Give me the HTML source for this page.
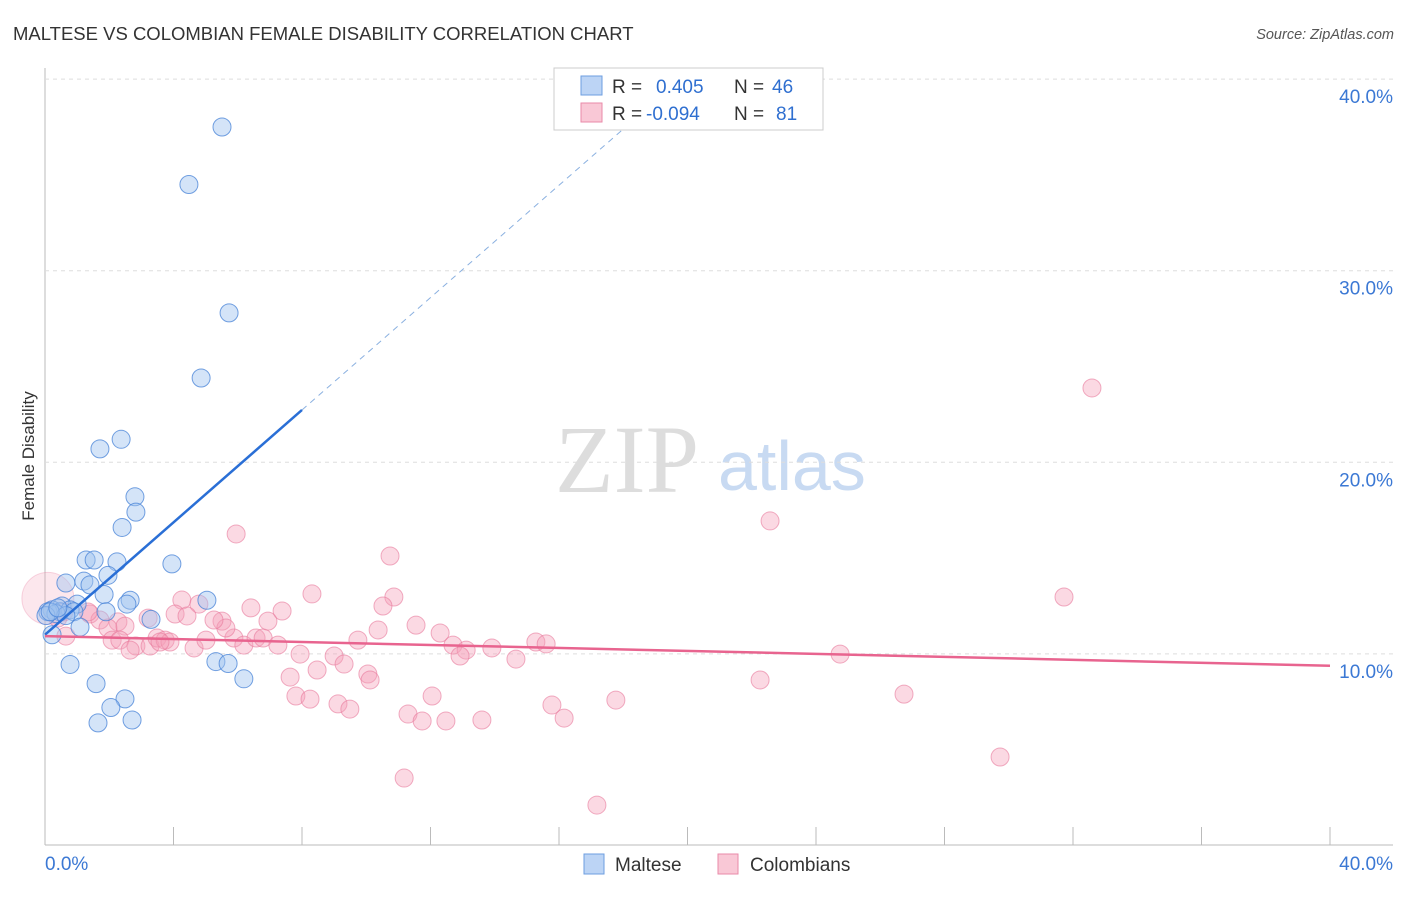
<!DOCTYPE html>
<html><head><meta charset="utf-8"><style>
body{margin:0;background:#fff;font-family:"Liberation Sans",sans-serif;}
</style></head><body>
<svg id="c" width="1406" height="892" xmlns="http://www.w3.org/2000/svg" font-family="Liberation Sans, sans-serif">
<text x="13" y="40" font-size="18.5" fill="#333">MALTESE VS COLOMBIAN FEMALE DISABILITY CORRELATION CHART</text>
<text x="1394" y="39" font-size="14.5" fill="#555" font-style="italic" text-anchor="end">Source: ZipAtlas.com</text>
<text x="0" y="0" transform="translate(34,456) rotate(-90)" font-size="17" fill="#333" text-anchor="middle">Female Disability</text>
<text x="555" y="492" font-size="96" fill="#ddd" font-family="Liberation Serif, serif">ZIP</text>
<text x="718" y="490" font-size="70" fill="#c8daf2">atlas</text>
<g id="grid"></g><g id="pts"></g><g id="lines"></g>
<g>
<rect x="554" y="68" width="269" height="62" fill="#fff" stroke="#ccc"/>
<rect x="581" y="76" width="21" height="19" fill="#bcd4f5" stroke="#6d9ee0"/>
<rect x="581" y="103" width="21" height="19" fill="#f9c8d6" stroke="#e98aa8"/>
<text x="612" y="93" font-size="19" fill="#333">R = <tspan fill="#2f6fd0" x="656">0.405</tspan><tspan x="734">N = </tspan><tspan fill="#2f6fd0" x="772">46</tspan></text>
<text x="612" y="120" font-size="19" fill="#333">R = <tspan fill="#2f6fd0" x="646">-0.094</tspan><tspan x="734">N = </tspan><tspan fill="#2f6fd0" x="776">81</tspan></text>
</g>
<g>
<rect x="584" y="854" width="20" height="20" fill="#bcd4f5" stroke="#6d9ee0"/>
<text x="615" y="871" font-size="19" fill="#333">Maltese</text>
<rect x="718" y="854" width="20" height="20" fill="#f9c8d6" stroke="#e98aa8"/>
<text x="750" y="871" font-size="19" fill="#333">Colombians</text>
</g>
</svg>
<script>
const maltX=[5.51,4.48,5.73,4.86,2.37,1.71,2.80,2.83,2.40,1.28,1.53,2.24,3.95,1.96,0.65,1.21,1.40,1.84,2.65,5.04,2.55,1.00,0.53,0.22,0.47,0.78,0.09,0.34,0.90,0.03,0.65,1.09,3.30,0.22,1.90,0.78,1.59,5.32,5.70,6.19,2.49,2.05,1.65,2.71,0.16,0.40];
const maltY=[37.5,34.5,27.8,24.4,21.2,20.7,18.2,17.4,16.6,14.9,14.9,14.8,14.7,14.1,13.7,13.8,13.6,13.1,12.8,12.8,12.6,12.6,12.5,12.3,12.2,12.3,12.2,12.1,12.2,12.0,12.0,11.4,11.8,11.0,12.2,9.45,8.45,9.6,9.5,8.7,7.65,7.2,6.4,6.55,12.2,12.4];
const colX=[32.59,22.57,5.95,10.74,31.72,8.31,10.86,10.52,4.26,6.41,7.38,4.79,5.51,11.55,10.37,12.30,4.05,4.42,1.40,1.71,1.34,2.27,0.59,0.40,1.96,2.49,3.21,0.65,2.09,2.33,2.83,2.65,3.27,3.49,3.74,3.89,3.58,4.64,5.01,5.88,6.19,6.57,6.79,7.25,6.94,7.94,9.00,9.31,9.74,12.70,13.11,12.92,13.91,15.28,15.60,14.66,24.75,8.47,7.63,10.05,10.12,22.26,26.74,7.81,8.25,12.05,9.12,9.49,11.30,11.74,12.48,13.60,15.78,16.16,17.77,29.73,11.18,17.18,5.63,5.26,0.09];
const colY=[23.88,16.94,16.26,15.11,12.97,13.13,12.97,12.50,12.81,12.40,12.24,12.60,11.71,11.50,11.25,11.09,12.08,11.98,12.08,11.77,12.19,11.67,12.19,11.87,11.35,11.45,11.87,10.93,10.72,10.72,10.41,10.20,10.41,10.83,10.72,10.62,10.62,10.31,10.72,10.83,10.46,10.83,10.83,10.46,11.71,9.99,9.89,9.47,10.72,10.46,10.20,9.89,10.31,10.62,10.52,9.73,9.99,9.16,8.79,8.95,8.64,8.64,7.90,7.80,7.64,7.80,7.39,7.12,6.86,6.50,6.50,6.55,7.33,6.65,7.59,4.62,3.52,2.11,11.35,11.77,12.9];
const yTicks=[10,20,30,40];
const xTickLabels=["0.0%","40.0%"];
const maltTrend=[0,11.0,8.0,22.73,18.4];
const colTrend=[0,10.93,40,9.38];
const NS="http://www.w3.org/2000/svg";
const sx=v=>45+v*32.125, sy=v=>845.5-v*19.16;
function mk(t,a,p){const e=document.createElementNS(NS,t);for(const k in a)e.setAttribute(k,a[k]);p.appendChild(e);return e;}
const g=document.getElementById('grid');
let ax=mk('line',{x1:45,y1:68,x2:45,y2:845,stroke:'#bbb'},g);


ax=mk('line',{x1:45,y1:845,x2:1393,y2:845,stroke:'#bbb'},g);


for(let i=1;i<=10;i++){const t=mk('line',{x1:sx(i*4),x2:sx(i*4),y1:827,y2:845,stroke:'#bbb'},g);

}
yTicks.forEach(v=>{const l=mk('line',{x1:45,x2:1393,y1:sy(v),y2:sy(v),stroke:'#ddd','stroke-dasharray':'4,4'},g);


const t=mk('text',{x:1393,y:sy(v)+24,'font-size':19,fill:'#3b78d4','text-anchor':'end'},g);t.textContent=v.toFixed(1)+'%';

});
xTickLabels.forEach((s,i)=>{const t=mk('text',{x:i?1393:45,y:870,'font-size':19,fill:'#3b78d4','text-anchor':i?'end':'start'},g);t.textContent=s;

});
const p=document.getElementById('pts');
colX.forEach((x,i)=>{const big=i===colX.length-1;const c=mk('circle',{cx:sx(x),cy:sy(colY[i]),r:big?26:9,fill:'rgba(244,160,185,'+(big?0.25:0.4)+')',stroke:'rgba(232,120,155,'+(big?0.3:0.6)+')'},p);

});
maltX.forEach((x,i)=>{const c=mk('circle',{cx:sx(x),cy:sy(maltY[i]),r:9,fill:'rgba(160,195,240,0.45)',stroke:'rgba(70,130,215,0.75)'},p);

});
const L=document.getElementById('lines');
const sl=(maltTrend[3]-maltTrend[1])/(maltTrend[2]-maltTrend[0]);
let l=mk('line',{x1:sx(maltTrend[0]),y1:sy(maltTrend[1]),x2:sx(maltTrend[2]),y2:sy(maltTrend[3]),stroke:'#2a6fd6','stroke-width':2.5},L);


l=mk('line',{x1:sx(maltTrend[2]),y1:sy(maltTrend[3]),x2:sx(maltTrend[4]),y2:sy(maltTrend[1]+sl*maltTrend[4]),stroke:'#8ab0e0','stroke-width':1,'stroke-dasharray':'6,5'},L);


l=mk('line',{x1:sx(colTrend[0]),y1:sy(colTrend[1]),x2:sx(colTrend[2]),y2:sy(colTrend[3]),stroke:'#e8648f','stroke-width':2.5},L);


</script>
</body></html>
